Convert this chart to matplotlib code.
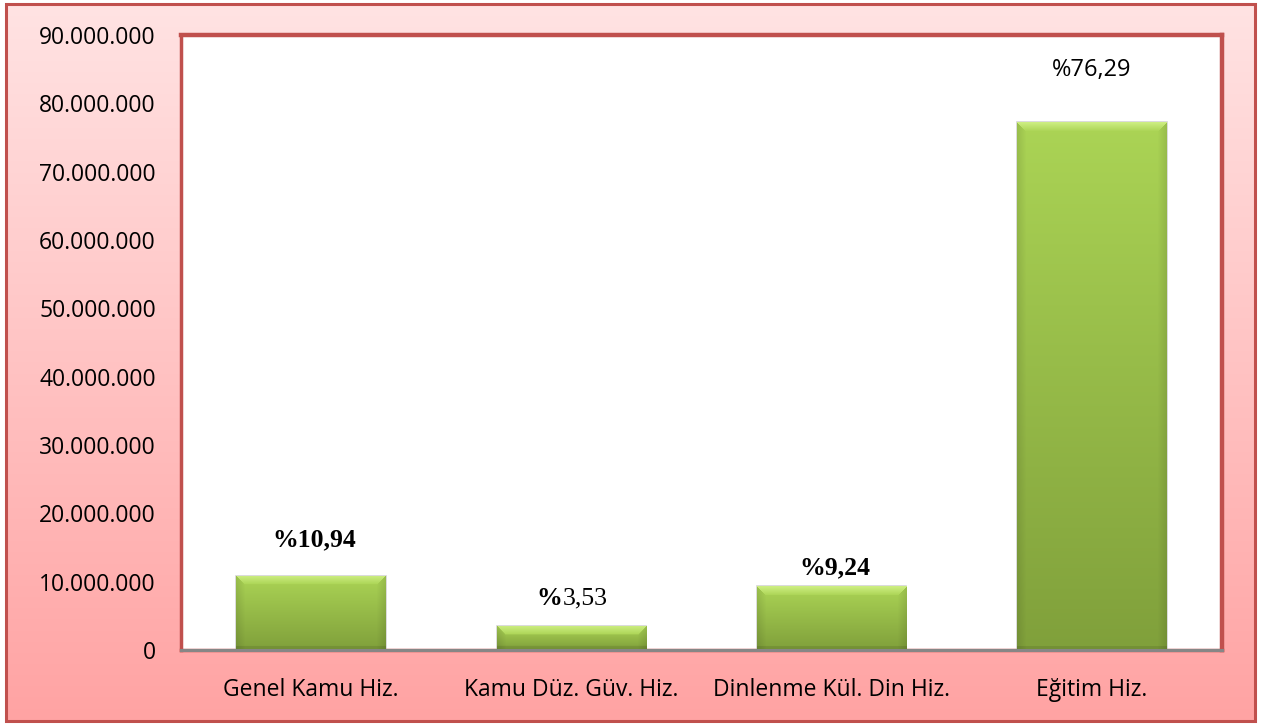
import numpy as np
import matplotlib
matplotlib.use("Agg")
import matplotlib.pyplot as plt
from matplotlib.patches import Rectangle
from matplotlib.ticker import FuncFormatter, MultipleLocator
from matplotlib.colors import to_rgb

# ---- data ----
categories = ["Genel Kamu Hiz.", "Kamu Düz. Güv. Hiz.", "Dinlenme Kül. Din Hiz.", "Eğitim Hiz."]
values = [10_900_000, 3_520_000, 9_350_000, 77_200_000]
pct_labels = ["%10,94", "%3,53", "%9,24", "%76,29"]
y_max = 90_000_000
y_step = 10_000_000

W, H = 1261, 726
fig = plt.figure(figsize=(W / 100, H / 100), dpi=100)
fig.patch.set_facecolor("white")

# ---- background gradient of the chart area ----
bg = fig.add_axes([0, 0, 1, 1], zorder=-10)
bg.set_xlim(0, W)
bg.set_ylim(H, 0)
bg.axis("off")
top_c = np.array(to_rgb("#ffe3e3"))
bot_c = np.array(to_rgb("#ffa3a3"))
t = np.linspace(0, 1, 256)[:, None, None]
grad = top_c * (1 - t) + bot_c * t
grad = np.repeat(grad, 2, axis=1)
x0, x1, y0, y1 = 6, 1255, 4, 721
bg.imshow(grad, extent=[x0, x1, y1, y0], aspect="auto", zorder=0)
bg.add_patch(Rectangle((x0 - 1.5, y0), 2, y1 - y0, facecolor="#9a9a9a", edgecolor="none", zorder=1))
bg.add_patch(Rectangle((x0, y0), x1 - x0, y1 - y0, fill=False, edgecolor="#c0504d", lw=2.2, zorder=2))

# ---- main axes ----
ax = fig.add_axes([181 / W, 1 - 650 / H, 1041 / W, 615 / H])
ax.set_facecolor("white")
x = np.arange(len(categories))
bars = ax.bar(x, values, width=0.575, color="#9dc24a", zorder=3)
ax.set_xlim(-0.5, len(categories) - 0.5)
ax.set_ylim(0, y_max)
ax.yaxis.set_major_locator(MultipleLocator(y_step))
ax.yaxis.set_major_formatter(FuncFormatter(lambda v, p: f"{int(v):,}".replace(",", ".")))
ax.set_xticks(x)
ax.set_xticklabels(categories)
ax.tick_params(axis="both", length=0, labelsize=16.5)
ax.tick_params(axis="y", pad=18)
ax.tick_params(axis="x", pad=20)
for lab in ax.get_xticklabels() + ax.get_yticklabels():
    lab.set_fontfamily("Open Sans")
    lab.set_color("black")

for s in ["top", "right", "left"]:
    ax.spines[s].set_color("#c0504d")
ax.spines["top"].set_linewidth(3.2)
ax.spines["right"].set_linewidth(3.2)
ax.spines["left"].set_linewidth(2.5)
ax.spines["bottom"].set_color("#c0504d")
ax.spines["bottom"].set_linewidth(2.5)
# grey inner shadow on left and baseline
ax.axhline(0, color="#868686", lw=2.2, zorder=4, clip_on=False)
ax.axvline(-0.5, color="#8a8a8a", lw=2.0, zorder=2)

# ---- bar gradient fill with bevel ----
fig.canvas.draw()
light = np.array(to_rgb("#abd455"))
dark = np.array(to_rgb("#80a03b"))
bevel_top = np.array(to_rgb("#cdee82"))
for b in bars:
    bb = b.get_window_extent()
    wpx = max(int(round(bb.width)), 2)
    hpx = max(int(round(bb.height)), 2)
    tt = np.linspace(0, 1, hpx)[:, None]
    base = light * (1 - tt[..., None]) + dark * tt[..., None]
    img = np.broadcast_to(base, (hpx, wpx, 3)).copy()
    bev = 9
    yy, xx = np.mgrid[0:hpx, 0:wpx]
    d_side = np.minimum(xx, wpx - 1 - xx)
    # soft darker sides
    sfac = 1 - 0.10 * np.clip(1 - d_side / bev, 0, 1)
    topm = (yy < bev) & (yy <= d_side)
    img *= sfac[..., None]
    fade = (yy[topm] / bev)[:, None]
    img[topm] = bevel_top * (1 - fade) + light * fade
    botm = (yy >= hpx - 4)
    img[botm] = img[botm] * 0.9
    xa, xb = b.get_x(), b.get_x() + b.get_width()
    ya, yb = b.get_y(), b.get_y() + b.get_height()
    im = ax.imshow(img, extent=[xa, xb, ya, yb], aspect="auto", zorder=3.5,
                   interpolation="bilinear")
    im.set_clip_path(b)
    # soft shadow
    ax.add_patch(Rectangle((xa, ya), b.get_width(), b.get_height(), fill=False,
                           edgecolor="#a0a0a0", lw=1.2, alpha=0.45, zorder=3.2))
ax.set_xlim(-0.5, len(categories) - 0.5)
ax.set_ylim(0, y_max)

# ---- data labels ----
serif = "Liberation Serif"
offs = [26, 20, 13, 38]
for i, (v, lab) in enumerate(zip(values, pct_labels)):
    if i == 0 or i == 2:
        ax.annotate(lab, (x[i], v), xytext=(2, offs[i]), textcoords="offset points",
                    ha="center", va="center", fontsize=18.5, fontweight="bold",
                    family=serif, zorder=6)
    elif i == 1:
        ax.annotate(lab[0], (x[i], v), xytext=(-6.5, offs[i]), textcoords="offset points",
                    ha="right", va="center", fontsize=18.5, fontweight="bold",
                    family=serif, zorder=6)
        ax.annotate(lab[1:], (x[i], v), xytext=(-6.5, offs[i]), textcoords="offset points",
                    ha="left", va="center", fontsize=18.5, family=serif, zorder=6)
    else:
        ax.annotate(lab, (x[i], v), xytext=(0, offs[i]), textcoords="offset points",
                    ha="center", va="center", fontsize=17, family="Open Sans", zorder=6)

fig.savefig("out.png", dpi=100)
